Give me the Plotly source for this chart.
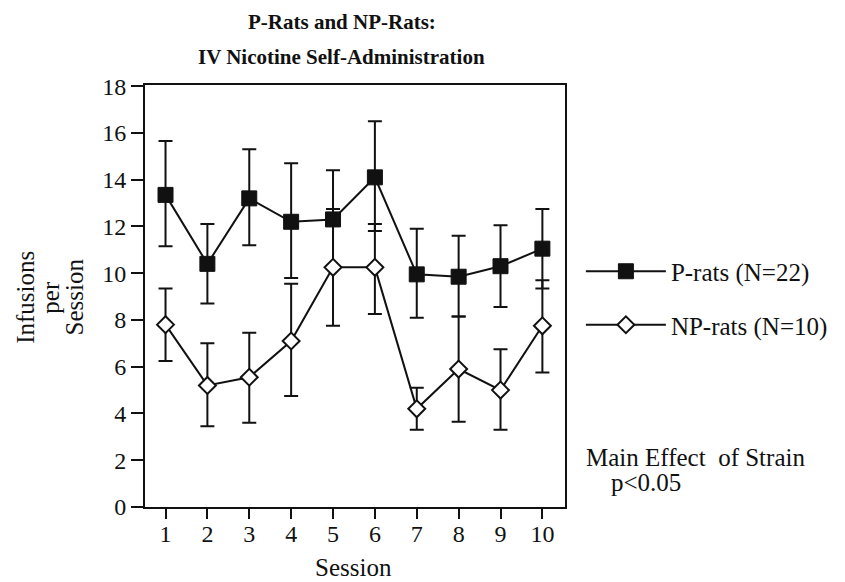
import plotly.graph_objects as go

sessions = [1, 2, 3, 4, 5, 6, 7, 8, 9, 10]

p_mean = [13.35, 10.4, 13.2, 12.2, 12.3, 14.1, 9.95, 9.85, 10.3, 11.05]
p_err_up = [2.3, 1.7, 2.1, 2.5, 2.1, 2.4, 1.95, 1.75, 1.75, 1.7]
p_err_dn = [2.2, 1.7, 2.0, 2.4, 2.1, 2.3, 1.85, 1.7, 1.75, 1.7]

np_mean = [7.8, 5.2, 5.55, 7.1, 10.25, 10.25, 4.2, 5.9, 5.0, 7.75]
np_err_up = [1.55, 1.8, 1.9, 2.45, 2.5, 1.85, 0.9, 2.25, 1.75, 1.95]
np_err_dn = [1.55, 1.75, 1.95, 2.35, 2.5, 2.0, 0.9, 2.25, 1.7, 2.0]

y_ticks = [0, 2, 4, 6, 8, 10, 12, 14, 16, 18]

FONT = "Liberation Serif"
INK = "#111"

# plot area in pixels (for placing annotations)
L, R, T, B = 145, 568, 85, 507
PW, PH = R - L, B - T


def px(x):
    return (x - L) / PW


def py(y):
    return (B - y) / PH


fig = go.Figure()
fig.add_trace(go.Scatter(
    x=sessions, y=p_mean, mode="lines+markers", name="P-rats (N=22)",
    legendgroup="p",
    line=dict(color=INK, width=2),
    marker=dict(symbol="square", size=15, color=INK, line=dict(color=INK, width=1)),
    error_y=dict(type="data", symmetric=False, array=p_err_up, arrayminus=p_err_dn,
                 color=INK, thickness=2, width=7),
))
fig.add_trace(go.Scatter(
    x=sessions, y=np_mean, mode="lines+markers", name="NP-rats (N=10)",
    legendgroup="np",
    line=dict(color=INK, width=2),
    marker=dict(symbol="diamond", size=13, color="white", line=dict(color=INK, width=2)),
    error_y=dict(type="data", symmetric=False, array=np_err_up, arrayminus=np_err_dn,
                 color=INK, thickness=2, width=7),
))

tf = dict(family=FONT, size=24, color=INK)
af = dict(family=FONT, size=25, color=INK)

annotations = [
    dict(text="<b>P-Rats and NP-Rats:</b>", x=px(343), y=py(22),
         font=dict(family=FONT, size=21, color=INK)),
    dict(text="<b>IV Nicotine Self-Administration</b>", x=px(343), y=py(57),
         font=dict(family=FONT, size=21, color=INK)),
    dict(text="Infusions", x=px(24), y=py(297), textangle=-90, font=af),
    dict(text="per", x=px(49), y=py(297), textangle=-90, font=af),
    dict(text="Session", x=px(73), y=py(297), textangle=-90, font=af),
    dict(text="Session", x=px(355), y=py(567), font=af),
    dict(text="Main Effect&nbsp;&nbsp;of Strain", x=px(587), y=py(457), xanchor="left", font=af),
    dict(text="p&lt;0.05", x=px(612), y=py(482), xanchor="left", font=af),
]
for a in annotations:
    a.setdefault("xanchor", "center")
    a.update(xref="paper", yref="paper", yanchor="middle", showarrow=False)

fig.update_layout(
    width=845, height=582,
    margin=dict(l=L, r=845 - R, t=T, b=582 - B),
    paper_bgcolor="white", plot_bgcolor="white",
    font=dict(family=FONT, size=24, color=INK),
    showlegend=True,
    legend=dict(x=px(584), y=py(298), xanchor="left", yanchor="middle",
                font=dict(family=FONT, size=25, color=INK),
                itemwidth=80, tracegroupgap=18, bgcolor="rgba(0,0,0,0)"),
    xaxis=dict(range=[0.51, 10.54], tickvals=sessions, ticks="outside", ticklen=10,
               tickwidth=2, tickcolor=INK, showline=True, linewidth=2, linecolor=INK,
               mirror=True, showgrid=False, zeroline=False, tickfont=tf,
               ticklabelstandoff=-6),
    yaxis=dict(range=[0, 18.05], tickvals=y_ticks, ticks="outside", ticklen=12,
               tickwidth=2, tickcolor=INK, showline=True, linewidth=2, linecolor=INK,
               mirror=True, showgrid=False, zeroline=False, tickfont=tf),
    annotations=annotations,
)

fig.write_html("out.html")
